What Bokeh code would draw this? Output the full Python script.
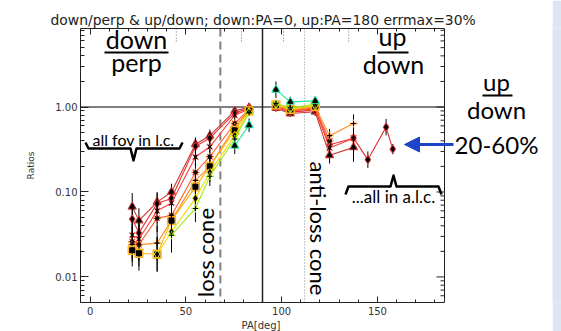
import math
from bokeh.plotting import figure
from bokeh.layouts import row
from bokeh.models import (Range1d, LinearAxis, FixedTicker, CustomJSTickFormatter,
                          Label, Arrow, NormalHead, Span, ColumnDataSource, Title)
from bokeh.embed import file_html
from bokeh.resources import INLINE

NaN = float("nan")

# ---------------- data ----------------
PA_LEFT = [22, 25.5, 35, 42.5, 55, 62.5, 75.5, 83]
PA_RIGHT = [97, 104.5, 117.5, 125, 137.5, 145, 154.5, 158]

COLORS = ["#c83a3a", "#e43232", "#ff3c3c", "#ff5a28", "#ff8c1e", "#ffb414",
          "#f0dc00", "#9ee61e", "#1ee69a"]
MARKERS = ["triangle", "diamond", "x", "asterisk", "cross", "square",
           "diamond", "cross", "triangle"]

# down/perp ratios (PA < 90)
DOWN_PERP = [
    [0.067, 0.046, 0.076, 0.100, 0.365, 0.46, 0.90, 0.99],
    [0.048, 0.033, 0.073, 0.084, 0.345, 0.43, 0.85, 0.97],
    [0.031, 0.028, 0.060, 0.074, 0.258, 0.34, 0.80, 0.95],
    [0.026, 0.024, 0.049, 0.053, 0.170, 0.26, 0.64, 0.94],
    [0.024, 0.024, 0.025, 0.046, 0.137, 0.20, 0.58, 0.92],
    [0.0206, 0.019, 0.0185, 0.046, 0.115, 0.20, 0.53, 0.90],
    [NaN, NaN, 0.0185, 0.034, 0.084, 0.17, 0.46, 0.88],
    [NaN, NaN, NaN, 0.031, 0.064, 0.153, 0.42, 0.86],
    [NaN, NaN, NaN, NaN, NaN, NaN, 0.35, 0.61],
]
# up/down ratios (PA > 90)
UP_DOWN = [
    [0.97, 0.84, 0.88, 0.27, 0.335, NaN, NaN, NaN],
    [1.00, 0.87, 0.92, 0.36, 0.43, 0.24, 0.58, 0.32],
    [1.02, 0.90, 0.95, 0.33, 0.43, NaN, NaN, NaN],
    [1.04, 0.91, 0.97, 0.40, NaN, NaN, NaN, NaN],
    [1.05, 0.92, 1.00, 0.46, 0.64, NaN, NaN, NaN],
    [1.06, 0.94, 1.02, NaN, NaN, NaN, NaN, NaN],
    [1.08, 0.96, 1.04, NaN, NaN, NaN, NaN, NaN],
    [1.10, 0.98, 1.08, NaN, NaN, NaN, NaN, NaN],
    [1.60, 1.15, 1.18, NaN, NaN, NaN, NaN, NaN],
]
# relative errors
ERR_LEFT = [
    [0.45, 0.40, 0.30, 0.25, 0.20, 0.18, 0.10, 0.06],
    [0.50, 0.45, 0.35, 0.30, 0.22, 0.20, 0.10, 0.06],
    [0.55, 0.50, 0.40, 0.35, 0.25, 0.20, 0.12, 0.06],
    [0.60, 0.55, 0.45, 0.40, 0.30, 0.22, 0.12, 0.06],
    [0.60, 0.80, 0.60, 0.45, 0.30, 0.25, 0.15, 0.06],
    [0.55, 0.60, 0.60, 0.50, 0.35, 0.25, 0.15, 0.08],
    [0.0, 0.0, 0.60, 0.55, 0.40, 0.30, 0.15, 0.08],
    [0.0, 0.0, 0.0, 0.60, 0.45, 0.30, 0.18, 0.08],
    [0.0, 0.0, 0.0, 0.0, 0.0, 0.0, 0.25, 0.20],
]
ERR_RIGHT = [
    [0.10, 0.10, 0.12, 0.25, 0.40, 0.0, 0.0, 0.0],
    [0.10, 0.10, 0.12, 0.30, 0.90, 0.25, 0.25, 0.15],
    [0.10, 0.10, 0.12, 0.25, 0.40, 0.0, 0.0, 0.0],
    [0.10, 0.10, 0.12, 0.25, 0.0, 0.0, 0.0, 0.0],
    [0.10, 0.10, 0.12, 0.20, 0.05, 0.0, 0.0, 0.0],
    [0.10, 0.10, 0.12, 0.0, 0.0, 0.0, 0.0, 0.0],
    [0.10, 0.10, 0.12, 0.0, 0.0, 0.0, 0.0, 0.0],
    [0.10, 0.10, 0.12, 0.0, 0.0, 0.0, 0.0, 0.0],
    [0.25, 0.15, 0.12, 0.0, 0.0, 0.0, 0.0, 0.0],
]

LOSS_CONE = 68
ANTI_LOSS_CONE = 112
LC_MARKS = [45, 79, 101, 135]

TITLE = "down/perp & up/down; down:PA=0, up:PA=180 errmax=30%"
X_LABEL = "PA[deg]"
Y_LABEL = "Ratios"
X_TICKS = [0, 50, 100, 150]
Y_TICKS = [0.01, 0.1, 1.0]

# ---------------- geometry ----------------
X0, X1 = -5, 185          # axis extent in degrees
Y0, Y1 = 0.005, 8.4
FL, FR, FT, FB = 80, 444, 28, 302   # pixel box of the axes
W, H = 552, 331
S = (FR - FL) / (X1 - X0)  # px per degree
XMAX = X0 + (W - FL) / S   # frame extends to canvas edge (for outside notes)


def dx(px):
    return X0 + (px - FL) / S


def dy(py):
    l0, l1 = math.log10(Y0), math.log10(Y1)
    return 10 ** (l1 - (py - FT) * (l1 - l0) / (FB - FT))


AX_FONT = "DejaVu Sans"
TXT_FONT = "Lato"
INK = "#222222"

p = figure(width=W, height=H, x_range=Range1d(X0, XMAX), y_range=Range1d(Y0, Y1),
           y_axis_type="log", output_backend="svg", toolbar_location=None,
           min_border_left=FL, min_border_right=0, min_border_top=FT,
           min_border_bottom=H - FB)
p.grid.visible = False
p.outline_line_color = None
p.background_fill_color = "white"
p.border_fill_color = "white"

minor_x = list(range(0, 181, 10))
minor_y = [k * 10 ** d for d in (-3, -2, -1, 0) for k in range(2, 10)
           if Y0 <= k * 10 ** d <= Y1]


def style_axis(ax, tin, tmin):
    ax.major_tick_in = tin
    ax.major_tick_out = 0
    ax.minor_tick_in = tmin
    ax.minor_tick_out = 0
    ax.axis_line_color = INK
    ax.major_tick_line_color = INK
    ax.minor_tick_line_color = INK
    ax.major_label_text_font = AX_FONT
    ax.major_label_text_font_size = "10px"
    ax.major_label_text_color = "#333333"
    ax.axis_label_text_font = AX_FONT
    ax.axis_label_text_font_style = "normal"
    ax.axis_label_text_font_size = "10px"
    ax.axis_label_text_color = "#333333"


xa = p.xaxis[0]
xa.ticker = FixedTicker(ticks=X_TICKS, minor_ticks=minor_x)
xa.bounds = (X0, X1)
style_axis(xa, 6, 3)
xa.major_label_standoff = 4

ya = p.yaxis[0]
ya.ticker = FixedTicker(ticks=Y_TICKS, minor_ticks=minor_y)
ya.formatter = CustomJSTickFormatter(code="return tick.toFixed(2)")
style_axis(ya, 8, 4)
ya.major_label_standoff = 3
ya.axis_label = Y_LABEL
ya.axis_label_text_font_size = "9px"
ya.axis_label_standoff = 16

top = LinearAxis(ticker=FixedTicker(ticks=X_TICKS, minor_ticks=minor_x),
                 formatter=CustomJSTickFormatter(code="return ''"), bounds=(X0, X1))
style_axis(top, 6, 3)
top.major_label_text_font_size = "0px"
top.major_label_standoff = 0
p.add_layout(top, "above")

# x-axis label centred under the axis box (not the wider frame)
p.add_layout(Title(text=X_LABEL, align="left", offset=161, text_font=AX_FONT,
                   text_font_size="10px", text_font_style="normal", text_color="#333333",
                   standoff=0), "below")

# right edge of the box with inward ticks
p.add_layout(Span(location=X1, dimension="height", line_color=INK, line_width=1))
p.segment(x0=[X1] * len(Y_TICKS), y0=Y_TICKS, x1=[X1 - 8 / S] * len(Y_TICKS), y1=Y_TICKS,
          line_color=INK, line_width=1)
p.segment(x0=[X1] * len(minor_y), y0=minor_y, x1=[X1 - 4 / S] * len(minor_y), y1=minor_y,
          line_color=INK, line_width=1)

p.title.text = TITLE
p.title.align = "left"
p.title.offset = -30
p.title.text_font = AX_FONT
p.title.text_font_size = "13.9px"
p.title.text_font_style = "normal"
p.title.text_color = INK
p.title.standoff = 2

# reference lines
p.segment(x0=[X0], y0=[1.0], x1=[X1], y1=[1.0], line_color="#555555", line_width=1.5, level="underlay")
p.add_layout(Span(location=90, dimension="height", line_color=INK, line_width=1.5, level="underlay"))
p.add_layout(Span(location=LOSS_CONE, dimension="height", line_color="#808080", line_width=2,
                  line_dash="8 5", level="underlay"))
p.add_layout(Span(location=ANTI_LOSS_CONE, dimension="height", line_color="#808080", line_width=1,
                  line_dash="1 2", level="underlay"))
p.segment(x0=LC_MARKS, y0=[dy(41)] * len(LC_MARKS), x1=LC_MARKS, y1=[Y1] * len(LC_MARKS),
          line_color="#666666", line_width=1, line_dash="1 2")

# data
for i in range(len(COLORS)):
    c, m = COLORS[i], MARKERS[i]
    for pa, vals, errs in ((PA_LEFT, DOWN_PERP[i], ERR_LEFT[i]), (PA_RIGHT, UP_DOWN[i], ERR_RIGHT[i])):
        lo = [v / (1 + e) for v, e in zip(vals, errs)]
        hi = [v * (1 + e) for v, e in zip(vals, errs)]
        src = ColumnDataSource(dict(x=pa, y=vals, lo=lo, hi=hi))
        p.line("x", "y", source=src, line_color=c, line_width=1.1)
        p.segment(x0="x", y0="lo", x1="x", y1="hi", source=src, line_color="black", line_width=1)
        p.scatter("x", "y", source=src, marker=m, size=8, line_color=c, fill_color=c,
                  fill_alpha=0.25, line_width=1.3)
        p.scatter("x", "y", source=src, marker=m, size=5, line_color="black", fill_color="black",
                  line_width=1.1)


# annotations (positions given as reference-pixel baseline; centred on em box)
def label(txt, px, base_py, size, align="center", angle=0.0, mid=None):
    py = mid if mid is not None else base_py - 0.387 * size
    p.add_layout(Label(x=dx(px), y=dy(py), text=txt, text_align=align, text_baseline="middle",
                       angle=angle, text_font=TXT_FONT, text_font_size=f"{size}px",
                       text_color="black"))


def hline(px0, px1, py, width=2, color="black"):
    p.add_layout(Arrow(x_start=dx(px0), y_start=dy(py), x_end=dx(px1), y_end=dy(py), end=None,
                       line_color=color, line_width=width))


label("down", 136, 48, 25)
hline(104, 168, 52)
label("perp", 136, 71, 25)

label("up", 392, 45, 25)
hline(377, 408, 52)
label("down", 393, 73, 25)

label("all fov in l.c.", 133, 145, 16)
bx = [85, 88, 130, 133, 136, 179, 182]
by = [142, 148, 148, 160, 148, 148, 142]
p.line([dx(v) for v in bx], [dy(v) for v in by], line_color="black", line_width=2.5, line_join="round")

label("loss cone", 205, None, 22, angle=math.pi / 2, mid=252)
label("anti-loss cone", 318, None, 22, angle=-math.pi / 2, mid=228)

label("...all in a.l.c.", 393, 203, 17)
ux = [345, 348, 390, 393, 396, 438, 441]
uy = [194, 186, 186, 175, 186, 186, 194]
p.line([dx(v) for v in ux], [dy(v) for v in uy], line_color="black", line_width=2.5, line_join="round")

label("up", 496, 90, 24)
hline(482, 512, 95)
label("down", 496, 118, 24)
label("20-60%", 496, 153, 24)

BLUE = "#1f44c8"
p.add_layout(Arrow(x_start=dx(453), y_start=dy(144), x_end=dx(404), y_end=dy(144),
                   line_color=BLUE, line_width=3,
                   end=NormalHead(size=15, fill_color=BLUE, line_color=BLUE)))

strip = figure(width=561 - W, height=H, output_backend="svg", toolbar_location=None,
               x_axis_location=None, y_axis_location=None, min_border=0)
strip.grid.visible = False
strip.outline_line_color = None
strip.background_fill_color = "#dce6f2"
strip.border_fill_color = "#dce6f2"

layout = row(p, strip, spacing=0)
open("out.html", "w").write(file_html(layout, INLINE))
